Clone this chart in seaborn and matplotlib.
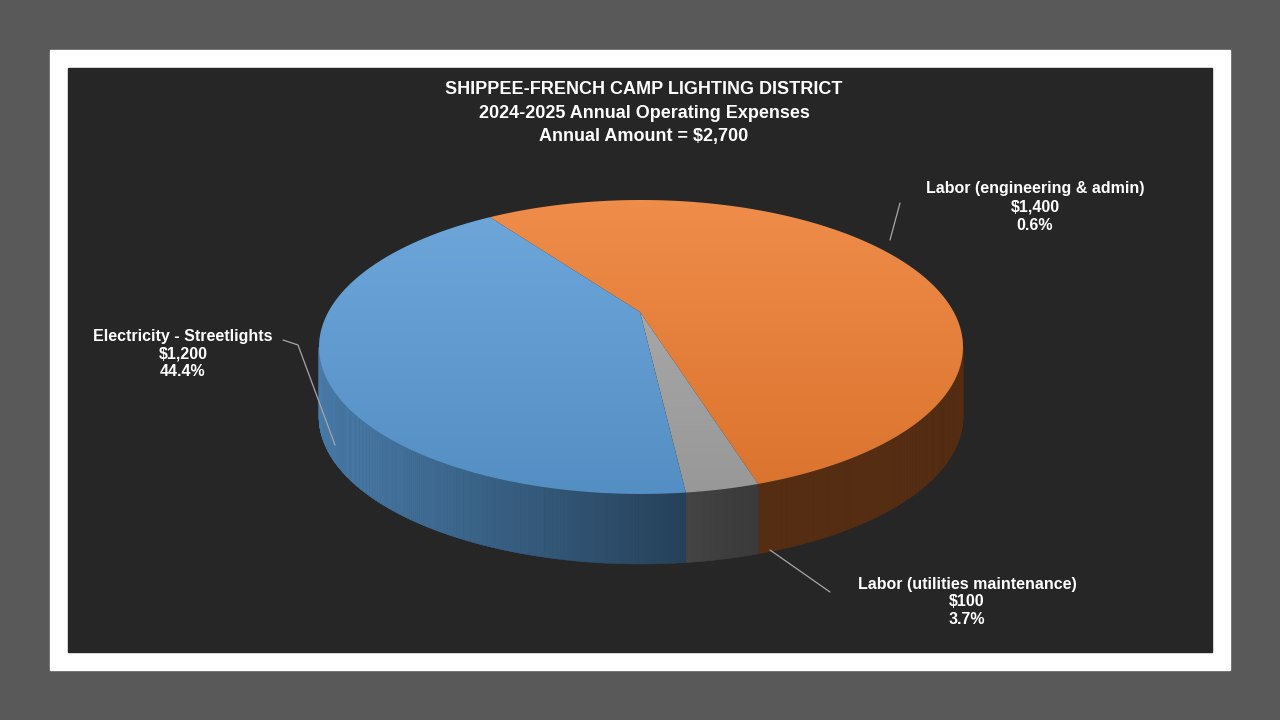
import numpy as np
import seaborn as sns
import matplotlib
matplotlib.use("Agg")
import matplotlib.pyplot as plt
from matplotlib.patches import Polygon, Rectangle
from matplotlib.colors import to_rgb

sns.set_style("dark")
plt.rcParams["font.family"] = ["Arial", "Liberation Sans", "DejaVu Sans"]

# data
categories = ["Labor (engineering & admin)", "Labor (utilities maintenance)", "Electricity - Streetlights"]
amounts = [1400, 100, 1200]
pct_labels = ["0.6%", "3.7%", "44.4%"]
colors = ["#ED7D31", "#A5A5A5", "#5B9BD5"]
title_lines = ["SHIPPEE-FRENCH CAMP LIGHTING DISTRICT",
               "2024-2025 Annual Operating Expenses",
               "Annual Amount = $2,700"]

fig = plt.figure(figsize=(12.8, 7.2), dpi=100)
fig.patch.set_facecolor("#595959")
ax = fig.add_axes([0, 0, 1, 1])
ax.set_xlim(0, 1280)
ax.set_ylim(720, 0)
ax.axis("off")
ax.add_patch(Rectangle((50, 50), 1180, 620, color="white", zorder=0))
ax.add_patch(Rectangle((68, 68), 1144, 584, color="#262626", zorder=0))

cx, cy, a, b, depth = 641, 347, 322, 147, 70
apex = (640, 312)
start = 118.0

def pt(deg, dy=0):
    r = np.radians(deg)
    return cx + a * np.cos(r), cy - b * np.sin(r) + dy

fracs = np.array(amounts) / sum(amounts)
bounds = start - np.concatenate([[0], np.cumsum(fracs) * 360])

# side walls (front half only)
for i, col in enumerate(colors):
    base = np.array(to_rgb(col))
    hi, lo = bounds[i], bounds[i + 1]
    for t in np.arange(lo, hi, 0.5):
        t2 = min(t + 0.6, hi)
        if np.sin(np.radians((t + t2) / 2)) > 0:
            continue
        c = np.cos(np.radians(t))
        f = max(0.36, 0.8 - 0.44 * (c + 1) / 1.3)
        poly = [pt(t), pt(t2), pt(t2, depth), pt(t, depth)]
        ax.add_patch(Polygon(poly, closed=True, color=base * f, lw=0.3, zorder=2))

# top wedges with vertical gradient
g = np.linspace(0, 1, 256)[:, None, None]
for i, col in enumerate(colors):
    base = np.array(to_rgb(col))
    angs = np.linspace(bounds[i], bounds[i + 1], 200)
    poly = [apex] + [pt(t) for t in angs]
    patch = Polygon(poly, closed=True, facecolor="none", edgecolor="none", zorder=3)
    ax.add_patch(patch)
    top = base * 0.88 + 0.12
    bot = base * 0.92
    img = np.clip(top[None, None, :] * (1 - g) + bot[None, None, :] * g, 0, 1)
    img = np.repeat(img, 2, axis=1)
    im = ax.imshow(img, extent=(cx - a, cx + a, cy + b, cy - b), aspect="auto", zorder=3)
    im.set_clip_path(patch)

# title
for k, line in enumerate(title_lines):
    ax.text(644, 90 + k * 23.5, line, color="white", fontsize=13, fontweight="bold",
            ha="center", va="center", zorder=5)

# labels and leader lines
label_pos = [(1035, 207), (967, 602), (183, 354)]
leaders = [[(900, 203), (890, 240)], [(830, 592), (770, 550)],
           [(283, 340), (298, 345), (335, 445)]]
for i in range(3):
    txt = "%s\n$%s\n%s" % (categories[i], format(amounts[i], ","), pct_labels[i])
    ax.text(*label_pos[i], txt, color="white", fontsize=11.5, fontweight="bold",
            ha="center", va="center", linespacing=1.25, zorder=5)
    xs, ys = zip(*leaders[i])
    ax.plot(xs, ys, color="#a6a6a6", lw=0.9, zorder=4)

fig.savefig("out.png", dpi=100, facecolor=fig.get_facecolor())
